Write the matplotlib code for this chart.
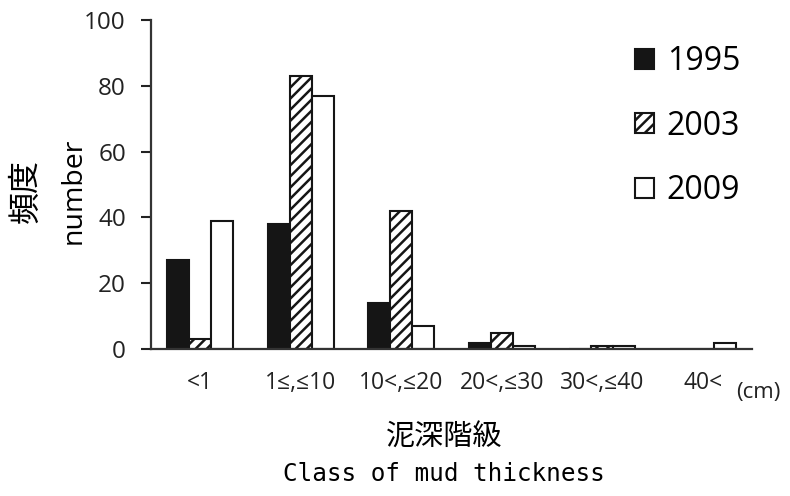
import numpy as np
import matplotlib.pyplot as plt

classes = ['<1', '1≤,≤10', '10<,≤20', '20<,≤30', '30<,≤40', '40<']
years = ['1995', '2003', '2009']
counts_1995 = [27, 38, 14, 2, 0, 0]
counts_2003 = [3, 83, 42, 5, 1, 0]
counts_2009 = [39, 77, 7, 1, 1, 2]


def main():
    plt.rcParams['font.family'] = ['Open Sans', 'Noto Sans CJK JP', 'DejaVu Sans']
    plt.rcParams['hatch.linewidth'] = 1.8

    fig = plt.figure(figsize=(7.9, 4.96), dpi=100)
    ax = fig.add_axes([0.191, 0.296, 0.761, 0.664])

    x = np.arange(len(classes))
    w = 0.22
    ax.bar(x - w, counts_1995, w, color='#151515', edgecolor='#151515', linewidth=1.5, label=years[0])
    ax.bar(x, counts_2003, w, color='white', edgecolor='#151515', hatch='///', linewidth=1.5, label=years[1])
    ax.bar(x + w, counts_2009, w, color='white', edgecolor='#151515', linewidth=1.5, label=years[2])

    ax.set_xlim(-0.49, 5.49)
    ax.set_ylim(0, 100)
    ax.set_yticks([0, 20, 40, 60, 80, 100])
    ax.set_xticks(x)
    ax.set_xticklabels(classes, fontsize=16.5)
    ax.tick_params(axis='x', length=0, pad=16, colors='#222222')
    ax.tick_params(axis='y', direction='out', length=7, width=1.5, labelsize=17.5, pad=11, colors='#222222')
    for s in ['top', 'right']:
        ax.spines[s].set_visible(False)
    for s in ['left', 'bottom']:
        ax.spines[s].set_linewidth(1.6)
        ax.spines[s].set_color('#333333')

    ax.legend(loc='upper right', bbox_to_anchor=(1.028, 1.01), frameon=False, fontsize=23,
              labelspacing=0.98, handlelength=0.6, handleheight=0.6, handletextpad=0.4)

    fig.text(0.932, 0.208, '(cm)', fontsize=16, ha='left', va='center', color='#222222')
    fig.text(0.032, 0.615, '頻度', fontsize=23, rotation=90, ha='center', va='center',
             family=['Noto Sans CJK JP'])
    fig.text(0.093, 0.615, 'number', fontsize=20.5, rotation=90, ha='center', va='center')
    fig.text(0.562, 0.118, '泥深階級', fontsize=21, ha='center', va='center',
             family=['Noto Sans CJK JP'])
    fig.text(0.562, 0.045, 'Class of mud thickness', fontsize=17.5, ha='center', va='center',
             family=['DejaVu Sans Mono'])

    fig.savefig('out.png', dpi=100)


if __name__ == "__main__":
    main()
